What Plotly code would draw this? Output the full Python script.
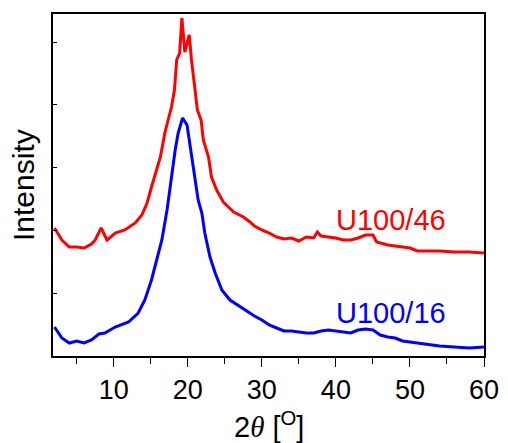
import plotly.graph_objects as go

# 2theta (degrees)
x_red = [2, 3, 4, 5, 6, 7, 7.5, 8.3, 9.1, 10.2, 11.5, 12.9, 13.8, 14.5, 15.1, 15.6, 16.3,
         16.9, 17.4, 17.8, 18.2, 18.5, 18.9, 19.2, 19.6, 20.2, 20.5, 20.9, 21.3, 21.8, 22.1,
         22.8, 23.2, 23.9, 24.8, 26.2, 27.5, 28.4, 29, 30, 31, 32, 33, 34, 35, 36, 37, 37.5,
         38, 40, 41, 42, 43, 44, 45, 45.5, 46, 47, 48, 49, 50, 51, 52, 54, 56, 58, 60]
y_red = [128, 116, 109, 109, 108, 112, 116, 128, 116, 123, 126, 133, 141, 153, 169, 181, 199,
         223, 239, 249, 266, 296, 303, 338, 304, 321, 296, 269, 246, 236, 216, 199, 179, 166,
         154, 144, 139, 134, 130, 126, 123, 119, 117, 118, 115, 119, 118, 124, 120, 118, 116,
         116, 118, 121, 121, 114, 113, 111, 110, 109, 108, 105, 105, 105, 104, 104, 103]

x_blue = [2, 3, 4, 5, 6, 7, 8, 8.8, 10.2, 12, 13.3, 14.2, 15.1, 15.8, 16.5, 17.2, 17.8, 18.3,
          18.7, 19.3, 19.9, 20.3, 20.8, 21.4, 21.9, 22.3, 23, 23.7, 24.6, 25.7, 27.1, 28.2,
          29, 30, 31, 32, 33, 34, 35, 36, 37, 38, 39, 40, 41, 42, 43, 44, 45, 46, 47, 48, 49,
          50, 51, 52, 54, 56, 58, 60]
y_blue = [29, 18, 13, 15, 13, 16, 22, 23, 29, 34, 43, 56, 76, 96, 116, 146, 180, 206, 223,
          238, 231, 213, 186, 156, 143, 123, 99, 83, 66, 56, 49, 44, 40, 36, 31, 28, 25, 25,
          24, 23, 23, 25, 26, 25, 24, 23, 26, 27, 26, 21, 19, 18, 15, 14, 13, 12, 10, 9, 8, 9]

labels = ["U100/46", "U100/16"]
label_x = [47.5, 47.5]
label_y = [136, 43]

RED = "#ff0000"
BLUE = "#0000ff"
FONT = "Arial, 'Liberation Sans', sans-serif"

fig = go.Figure()
fig.add_trace(go.Scatter(x=x_red, y=y_red, mode="lines",
                         line=dict(color=RED, width=3), showlegend=False))
fig.add_trace(go.Scatter(x=x_blue, y=y_blue, mode="lines",
                         line=dict(color=BLUE, width=3), showlegend=False))

for t, lx, ly, c in zip(labels, label_x, label_y, [RED, BLUE]):
    fig.add_annotation(x=lx, y=ly, text=t, showarrow=False, xanchor="center",
                       yanchor="middle", font=dict(color=c, size=29, family=FONT))

# axis titles as annotations for exact placement
fig.add_annotation(xref="paper", yref="paper", x=0.5, y=-0.202, showarrow=False,
                   xanchor="center", yanchor="middle",
                   text="2<span style=\"font-family:'Liberation Serif',serif;font-style:italic\">θ</span> [<sup>O</sup>]",
                   font=dict(size=29, family=FONT, color="black"))
fig.add_annotation(xref="paper", yref="paper", x=-0.0696, y=0.5, showarrow=False,
                   xanchor="center", yanchor="middle", textangle=-90,
                   text="Intensity", font=dict(size=30, family=FONT, color="black"))

fig.update_layout(
    width=508, height=443,
    margin=dict(l=53, r=24, t=14, b=87, autoexpand=False),
    plot_bgcolor="white", paper_bgcolor="white",
    font=dict(family=FONT, color="black"),
)
fig.update_xaxes(
    range=[1.8, 60], showgrid=False, zeroline=False, automargin=False,
    showline=True, linecolor="black", linewidth=1.5, mirror=True,
    ticks="outside", ticklen=9, tickwidth=1.2, tickcolor="black",
    tickvals=[10, 20, 30, 40, 50, 60],
    minor=dict(ticks="outside", ticklen=6, tickwidth=1.2, tickcolor="black",
               tickvals=[5, 15, 25, 35, 45, 55]),
    tickfont=dict(size=27, family=FONT),
)
fig.update_yaxes(
    range=[0, 342], showgrid=False, zeroline=False, automargin=False,
    showline=True, linecolor="black", linewidth=1.5, mirror=True,
    ticks="inside", ticklen=4, tickwidth=1.2, tickcolor="black",
    tick0=0, dtick=62.8, showticklabels=False,
)

fig.write_html("out.html", config={"displayModeBar": False},
               post_script="document.body.style.margin='0';")
